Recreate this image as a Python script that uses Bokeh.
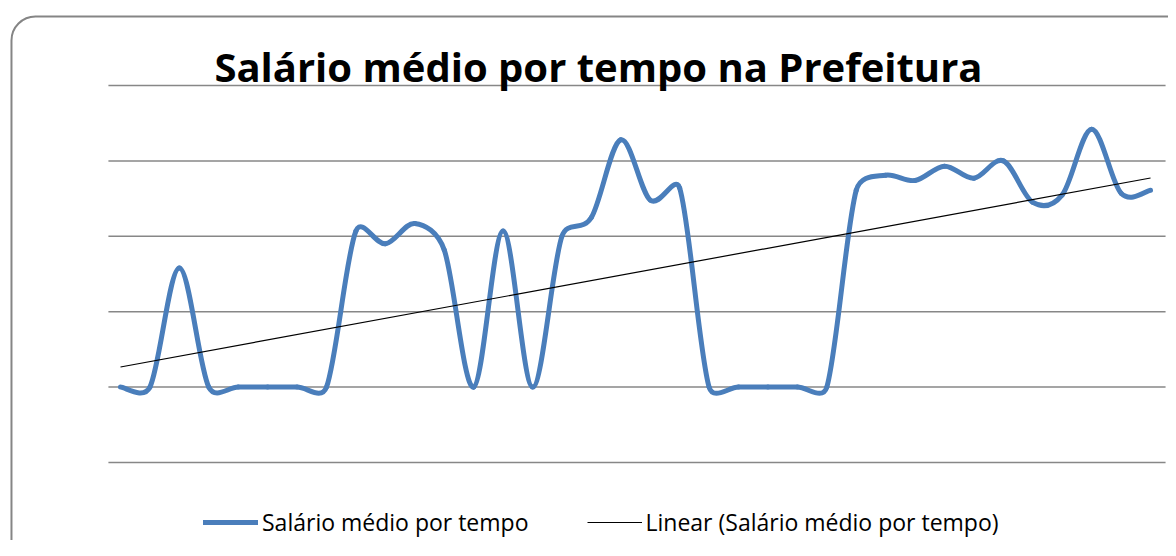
import numpy as np
from bokeh.plotting import figure
from bokeh.models import Range1d, Label, Legend, LegendItem, BoxAnnotation
from bokeh.embed import file_html
from bokeh.resources import INLINE

# ---- data ----
periodo = list(range(1, 37))
salario = [1000, 1000, 2580, 1000, 1000, 1000, 1000, 1000,
           3070, 2900, 3170, 2820, 1000, 3070, 1000, 3000,
           3250, 4280, 3480, 3640, 1000, 1000, 1000, 1000,
           1000, 3610, 3810, 3740, 3930, 3770, 4000, 3450,
           3550, 4420, 3570, 3610]
grade = [0, 1000, 2000, 3000, 4000, 5000]
titulo = "Salário médio por tempo na Prefeitura"
serie_nome = "Salário médio por tempo"
tendencia_nome = "Linear (Salário médio por tempo)"

# ---- figure ----
W, H = 1168, 540
xr = Range1d(-3.077, 36.61)
yr = Range1d(-1034.5, 6127)
p = figure(width=W, height=H, output_backend="svg", toolbar_location=None,
           min_border=0, x_range=xr, y_range=yr)
p.axis.visible = False
p.grid.visible = False
p.outline_line_color = None
p.background_fill_color = "white"
p.border_fill_color = "white"

# rounded chart-area border
p.add_layout(BoxAnnotation(left=-2.704, right=40, top=5915, bottom=-2500,
                           fill_alpha=0, line_color="#858585", line_alpha=1.0,
                           line_width=2, border_radius=24, level="underlay"))

# horizontal gridlines
gx0, gx1 = 0.59, 36.51
p.segment(x0=[gx0] * len(grade), x1=[gx1] * len(grade), y0=grade, y1=grade,
          line_color="#878787", line_width=1.5)

# smoothed series: Bezier segments through the data points
# (Catmull-Rom tangents, control arm capped at half the adjacent chord on screen)
x = np.array(periodo, dtype=float)
y = np.array(salario, dtype=float)
sx = W / (xr.end - xr.start)
sy = H / (yr.end - yr.start)
P = np.column_stack([x * sx, y * sy])
Pp = np.vstack([P[:1], P, P[-1:]])
T = (Pp[2:] - Pp[:-2]) / 6.0
Tlen = np.hypot(T[:, 0], T[:, 1])
Tlen[Tlen == 0] = 1e-9
seg = np.hypot(*(P[1:] - P[:-1]).T)
d_next = np.append(seg, seg[-1])
d_prev = np.insert(seg, 0, seg[0])
A = T * np.minimum(1.0, 0.5 * d_next / Tlen)[:, None]
B = T * np.minimum(1.0, 0.5 * d_prev / Tlen)[:, None]
C0 = P[:-1] + A[:-1]
C1 = P[1:] - B[1:]
serie = p.bezier(x0=x[:-1], y0=y[:-1], x1=x[1:], y1=y[1:],
                 cx0=C0[:, 0] / sx, cy0=C0[:, 1] / sy,
                 cx1=C1[:, 0] / sx, cy1=C1[:, 1] / sy,
                 line_color="#4A7EBB", line_width=5, line_cap="round")

# linear trend line
coef = np.polyfit(x, y, 1)
tx = [x[0], x[-1]]
ty = [coef[0] * t + coef[1] for t in tx]
trend = p.line(tx, ty, line_color="black", line_width=1.2)

# title
p.add_layout(Label(x=17.24, y=5252, text=titulo, text_align="center",
                   text_baseline="alphabetic", text_font="Open Sans",
                   text_font_style="bold", text_font_size="40px",
                   text_color="black"))

# legend
legend = Legend(items=[LegendItem(label=serie_nome, renderers=[serie]),
                       LegendItem(label=tendencia_nome, renderers=[trend])],
                location=(203, 2), orientation="horizontal",
                padding=0, margin=0, spacing=58, glyph_width=55,
                glyph_height=30, label_height=30, label_standoff=4,
                label_text_font="Open Sans", label_text_font_size="23px",
                label_text_color="black", border_line_alpha=0,
                background_fill_alpha=0)
p.add_layout(legend)

open("out.html", "w").write(file_html(p, INLINE))
